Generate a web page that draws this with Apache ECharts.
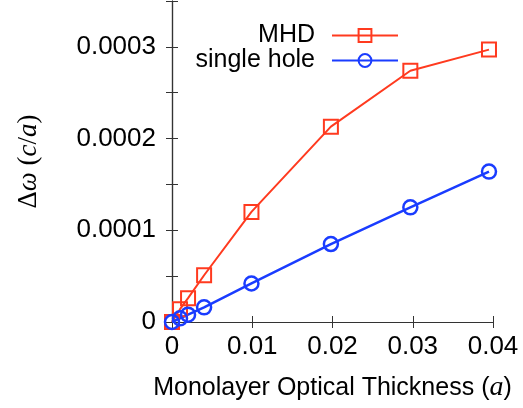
<!DOCTYPE html>
<html>
<head>
<meta charset="utf-8">
<script src="https://cdn.jsdelivr.net/npm/echarts@6/dist/echarts.min.js"></script>
<style>
  html, body { margin: 0; padding: 0; background: #fff; }
  #chart { width: 523px; height: 408px; }
</style>
</head>
<body>
<div id="chart"></div>
<script>
// thickness values (units of a)
var thickness = [0, 0.001, 0.002, 0.004, 0.0099, 0.0198, 0.0297, 0.0395]
// frequency shift (c/a)
var mhd = [0, 0.000014, 0.000026, 0.000051, 0.00012, 0.000213, 0.000274, 0.000297]
var singleHole = [0, 0.000004, 0.000008, 0.000016, 0.000042, 0.000085, 0.000125, 0.000164]

var RED = '#ff3a1f'
var BLUE = '#1a3cff'
var FONT = 'Liberation Sans'
var FS = 26

function pairs(xs, ys) {
  return xs.map(function(x, i) { return [x, ys[i]] })
}

var chart = echarts.init(document.getElementById('chart'))

var tickStyle = { inside: true, length: 6, lineStyle: { color: '#333', width: 1 } }
var lineStyle = { lineStyle: { color: '#333', width: 1.2 } }

chart.setOption({
  animation: false,
  grid: { left: 172, right: 30, top: 1, bottom: 86 },
  legend: {
    orient: 'vertical',
    align: 'right',
    right: 119,
    top: 18,
    itemWidth: 66,
    itemHeight: 16,
    itemGap: 0,
    textStyle: { fontFamily: FONT, fontSize: 25, lineHeight: 25, color: '#000', padding: [0, 12, 0, 0] },
    data: ['MHD', 'single hole']
  },
  xAxis: [{
    type: 'value',
    min: 0,
    max: 0.04,
    interval: 0.01,
    axisLine: lineStyle,
    axisTick: tickStyle,
    splitLine: { show: false },
    axisLabel: {
      fontFamily: FONT, fontSize: FS, color: '#000', margin: 12,
      formatter: function(v) { return v === 0 ? '0' : v.toFixed(2) }
    },
    name: '{t|Monolayer Optical Thickness (}{i|a}{t|)}',
    nameLocation: 'middle',
    nameGap: 52,
    nameTextStyle: {
      rich: {
        t: { fontFamily: FONT, fontSize: 25, color: '#000' },
        i: { fontFamily: 'Liberation Serif', fontStyle: 'italic', fontSize: 28, color: '#000' }
      }
    }
  }, {
    type: 'value',
    position: 'top',
    min: 0,
    max: 0.04,
    interval: 0.01,
    axisLine: lineStyle,
    axisTick: tickStyle,
    axisLabel: { show: false },
    splitLine: { show: false }
  }],
  yAxis: [{
    type: 'value',
    min: 0,
    max: 0.00035,
    interval: 0.00005,
    axisLine: lineStyle,
    axisTick: tickStyle,
    splitLine: { show: false },
    axisLabel: {
      fontFamily: FONT, fontSize: FS, color: '#000', margin: 16,
      formatter: function(v) {
        var k = Math.round(v / 0.00005)
        if (k % 2 !== 0) return ''
        return k === 0 ? '0' : (k * 0.00005).toFixed(4)
      }
    },
    name: '{s|Δ}{i|ω}{s| (}{i|c}{s|/}{i|a}{s|)}',
    nameLocation: 'middle',
    nameGap: 130,
    nameRotate: 90,
    nameTextStyle: {
      rich: {
        s: { fontFamily: 'Liberation Serif', fontSize: 27, color: '#000' },
        i: { fontFamily: 'Liberation Serif', fontStyle: 'italic', fontSize: 27, color: '#000' }
      }
    }
  }, {
    type: 'value',
    position: 'right',
    min: 0,
    max: 0.00035,
    interval: 0.00005,
    axisLine: lineStyle,
    axisTick: tickStyle,
    axisLabel: { show: false },
    splitLine: { show: false }
  }],
  series: [{
    name: 'MHD',
    type: 'line',
    data: pairs(thickness, mhd),
    symbol: 'rect',
    symbolSize: 14,
    showAllSymbol: true,
    lineStyle: { color: RED, width: 2 },
    itemStyle: { color: 'rgba(0,0,0,0)', borderColor: RED, borderWidth: 2 }
  }, {
    name: 'single hole',
    type: 'line',
    data: pairs(thickness, singleHole),
    symbol: 'circle',
    symbolSize: 14,
    showAllSymbol: true,
    lineStyle: { color: BLUE, width: 2.5 },
    itemStyle: { color: 'rgba(0,0,0,0)', borderColor: BLUE, borderWidth: 2.5 }
  }]
})
</script>
</body>
</html>
